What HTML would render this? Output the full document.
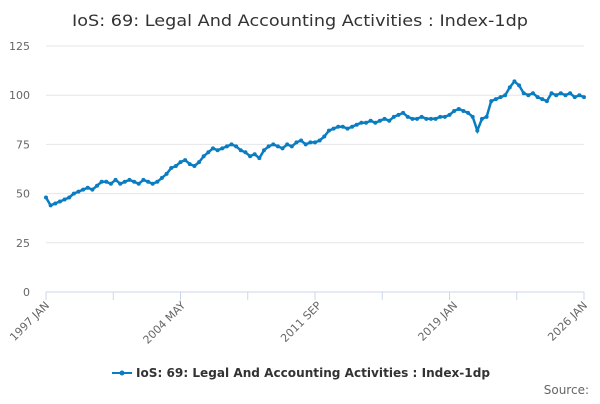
<!DOCTYPE html>
<html><head><meta charset="utf-8"><style>
body{margin:0;background:#fff;font-family:"DejaVu Sans","Liberation Sans",sans-serif}
</style></head><body>
<svg id="chart" width="600" height="400" xmlns="http://www.w3.org/2000/svg" font-family="DejaVu Sans, Liberation Sans, sans-serif">
<text x="300" y="26" text-anchor="middle" font-size="16" fill="#333" textLength="456" lengthAdjust="spacingAndGlyphs">IoS: 69: Legal And Accounting Activities : Index-1dp</text>
<g id="grid"></g><g id="axes"></g><g id="series"></g>
<g>
<line x1="112" y1="373" x2="132" y2="373" stroke="#0a7dc2" stroke-width="2"/>
<circle cx="122" cy="373" r="2.5" fill="#0a7dc2"/>
<text x="136" y="377" font-size="12" font-weight="bold" fill="#333" textLength="354" lengthAdjust="spacingAndGlyphs">IoS: 69: Legal And Accounting Activities : Index-1dp</text>
</g>
<text x="589" y="394" text-anchor="end" font-size="12" fill="#666">Source:</text>
</svg>
<script>
const startYear = 1997;
const values = [48,44,45,46, 47,48,50,51, 52,53,52,54, 56,56,55,57, 55,56,57,56, 55,57,56,55, 56,58,60,63,
 64,66,67,65, 64,66,69,71, 73,72,73,74, 75,74,72,71, 69,70,68,72, 74,75,74,73, 75,74,76,77,
 75,76,76,77, 79,82,83,84, 84,83,84,85, 86,86,87,86, 87,88,87,89, 90,91,89,88, 88,89,88,88,
 88,89,89,90, 92,93,92,91, 89,82,88,89, 97,98,99,100, 104,107,105,101, 100,101,99,98,
 97,101,100,101, 100,101,99,100, 99];
const yTicks = [0,25,50,75,100,125];
const xLabels = ["1997 JAN","2004 MAY","2011 SEP","2019 JAN","2026 JAN"];
const xLabelMonths = [0,88,176,264,348];
const NS="http://www.w3.org/2000/svg";
const X0=46,X1=584,Y0=292,Y1=46;
const xs=m=>X0+(X1-X0)*m/348;
const ys=v=>Y0-(Y0-Y1)*v/125;
function mk(t,a,p){const e=document.createElementNS(NS,t);for(const k in a)e.setAttribute(k,a[k]);p.appendChild(e);return e;}
const grid=document.getElementById('grid'),axes=document.getElementById('axes'),ser=document.getElementById('series');
yTicks.forEach(v=>{
 const l=mk('line',{x1:X0,x2:X1,y1:ys(v),y2:ys(v),stroke:v?'#e6e6e6':'#ccd6eb'},grid);
 
 
 const t=mk('text',{x:30,y:ys(v)+4,'text-anchor':'end','font-size':11,fill:'#666'},axes);
 t.textContent=v;
 
 
});
for(let i=0;i<=8;i++){
 const m=i*348/8;
 const tk=mk('line',{x1:xs(m),x2:xs(m),y1:Y0,y2:Y0+8,stroke:'#ccd6eb'},axes);
 
 
}
xLabels.forEach((s,i)=>{
 const x=xs(xLabelMonths[i]);
 const t=mk('text',{x:x+4,y:Y0+14,'text-anchor':'end','font-size':11,fill:'#666',transform:`rotate(-45 ${x+4} ${Y0+14})`},axes);
 t.textContent=s;
 
 
});
const pts=values.map((v,i)=>[xs(i*3),ys(v)]);
const path=mk('path',{d:'M'+pts.map(p=>p[0].toFixed(1)+','+p[1].toFixed(1)).join('L'),fill:'none',stroke:'#0a7dc2','stroke-width':2.5},ser);


pts.forEach(p=>{
 const c=mk('circle',{cx:p[0],cy:p[1],r:2,fill:'#0a7dc2'},ser);
 
 
});
</script>
</body></html>
